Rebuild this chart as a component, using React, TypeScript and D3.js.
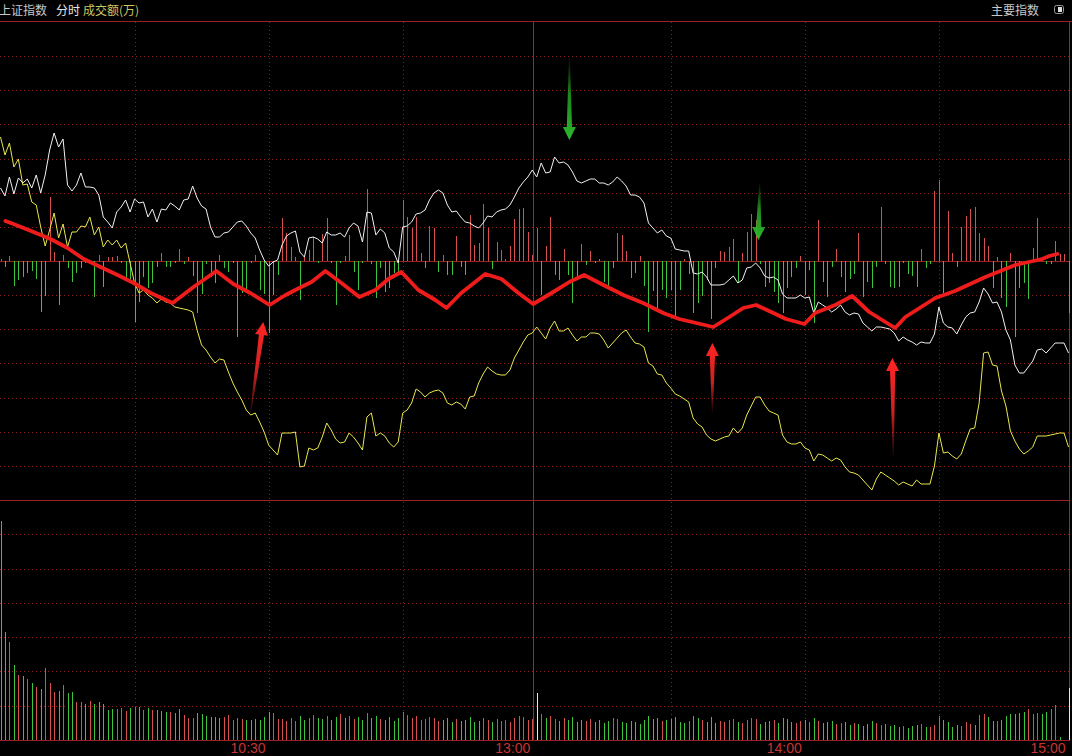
import React from "react";
import * as d3 from "d3";

// ---------- data (minute index 0..239) ----------
const whiteLine = [
  73, 65, 84, 67, 83, 78, 82, 73, 86, 68,
  86, 111, 128, 114, 122, 76, 70, 76, 88, 74,
  74, 73, 66, 44, 39, 33, 49, 54, 61, 49,
  62, 58, 59, 44, 52, 39, 52, 51, 58, 55,
  51, 61, 62, 75, 63, 55, 52, 34, 24, 24,
  28, 29, 34, 39, 40, 35, 28, 23, 11, 1,
  -5, -1, 1, 16, 25, 28, 30, 9, 4, 23,
  24, 22, 18, 29, 26, 26, 28, 24, 33, 38,
  35, 19, 49, 48, 26, 32, 28, 13, 9, -2,
  34, 35, 39, 47, 48, 51, 61, 68, 71, 68,
  56, 49, 50, 44, 39, 38, 35, 33, 38, 45,
  44, 49, 51, 52, 56, 64, 73, 79, 84, 91,
  84, 98, 88, 89, 104, 98, 99, 96, 89, 80,
  78, 80, 82, 82, 78, 78, 76, 79, 84, 80,
  75, 66, 66, 64, 58, 38, 33, 28, 31, 25,
  23, 12, 11, 10, 10, -12, -13, -11, -16, -24,
  -24, -24, -23, -19, -15, -22, -19, -7, -6, -2,
  -7, -15, -17, -16, -19, -33, -37, -37, -37, -34,
  -37, -36, -52, -41, -44, -47, -51, -48, -44, -51,
  -54, -52, -53, -62, -66, -70, -66, -66, -67, -68,
  -72, -80, -76, -79, -81, -84, -81, -82, -82, -73,
  -46, -62, -66, -67, -73, -64, -56, -52, -51, -41,
  -27, -33, -42, -41, -51, -69, -79, -104, -112, -112,
  -106, -100, -89, -88, -92, -87, -82, -82, -82, -92,
];

const yellowLine = [
  124, 106, 118, 94, 102, 76, 77, 59, 56, 34,
  15, 31, 48, 23, 37, 14, 29, 29, 35, 34,
  44, 26, 34, 14, 21, 16, 21, 13, 18, -2,
  -22, -32, -29, -34, -37, -42, -38, -41, -42, -46,
  -47, -48, -49, -51, -69, -84, -89, -96, -102, -98,
  -99, -111, -122, -131, -139, -149, -154, -152, -161, -171,
  -184, -189, -194, -172, -172, -172, -171, -206, -205, -187,
  -189, -187, -176, -162, -169, -178, -182, -181, -172, -176,
  -182, -189, -156, -152, -175, -172, -175, -182, -186, -181,
  -152, -149, -142, -128, -131, -136, -132, -130, -129, -132,
  -142, -144, -141, -143, -148, -136, -135, -122, -113, -106,
  -110, -113, -114, -114, -109, -97, -89, -81, -74, -72,
  -66, -72, -78, -67, -60, -70, -70, -67, -74, -80,
  -76, -76, -72, -72, -73, -79, -87, -82, -77, -72,
  -69, -76, -82, -83, -86, -102, -105, -113, -114, -122,
  -127, -133, -135, -138, -141, -157, -163, -166, -174, -178,
  -180, -178, -176, -175, -167, -172, -167, -154, -145, -136,
  -136, -144, -150, -152, -154, -174, -181, -183, -183, -181,
  -187, -189, -200, -193, -194, -197, -200, -197, -199, -206,
  -211, -212, -214, -219, -224, -229, -218, -211, -214, -217,
  -220, -224, -221, -223, -225, -219, -223, -223, -223, -205,
  -172, -192, -191, -195, -198, -193, -180, -168, -167, -142,
  -92, -91, -104, -105, -130, -145, -170, -180, -188, -193,
  -190, -186, -175, -175, -175, -174, -173, -172, -172, -186,
];

const diffBars = [
  2, -6, 5, -25, -19, -16, -12, -10, -18, -51,
  -35, 64, 9, -44, 6, -7, -21, -12, -7, -2,
  -3, -36, 6, -26, 4, 4, 5, -2, -19, -20,
  -61, -41, -16, -27, -22, -6, 8, -6, -6, -2,
  12, -3, 4, -15, -52, -33, -3, -16, -22, 6,
  -7, -11, -2, -76, -32, -29, -2, 6, -29, -33,
  -72, -34, -14, 43, 28, 14, 4, -39, 4, 11,
  24, -2, 27, 43, -2, -44, -2, 5, 26, -11,
  -29, -2, 72, -3, -37, -7, -31, -27, -12, -12,
  61, 44, 33, 44, 8, -7, 35, 33, -11, 6,
  -14, -14, 25, -6, -14, 46, 16, 18, 57, 33,
  -8, 19, 11, 2, 15, 42, 52, 53, 29, 6,
  33, -34, 15, 44, -14, -19, 12, -14, -42, -16,
  17, -4, 10, -2, 2, -21, -26, -7, 28, 26,
  10, -17, -12, 5, -25, -71, -30, -47, -29, -37,
  -29, -56, -29, 2, -13, -52, -42, -35, -19, -58,
  -7, 10, 9, 14, 22, -22, 8, 29, 47, 41,
  -3, -26, -22, -31, -42, -52, -27, -16, -7, 5,
  -34, -9, -62, 41, -21, -36, -6, 12, -16, -31,
  -18, -13, 28, -36, -21, -27, -6, 54, -3, -26,
  -27, -26, -2, -13, -15, -26, 12, -7, -3, 70,
  81, -32, 50, 8, -6, 34, 45, 52, 54, 28,
  23, 15, -27, 4, -37, -46, 8, -76, -27, -22,
  -38, 13, 43, 4, -3, -3, 20, 7, 7, -52,
];

const redLineMinute = [
  1.1, 2.9, 7.4, 11.2, 15, 18.6, 22.4, 26.2, 29.8, 33.6, 38.5, 43.2, 48.3, 52.1, 55.9, 60.2,
  63.8, 67.3, 69.6, 72.7, 76.3, 80.3, 83.9, 86.8, 89.7, 93.5, 97.3, 99.8, 103.1, 108.5, 112.1, 115.9, 119.2,
  123.7, 127.3, 130.6, 134.9, 139.4, 143.8, 148.3, 151.9, 155.7, 159.5, 163.1, 166.2, 169.1, 172, 175.8, 179.9,
  182.3, 186.8, 190.6, 194.4, 200.2, 202.5, 209.2, 213.6, 220.4, 227.1, 233.1, 234.7, 236.5,
];
const redLineValue = [
  40, 37, 29, 22, 13, 2, -6, -14, -22, -32, -42, -26, -10, -23, -32, -44,
  -34, -26, -21, -10, -22, -36, -29, -18, -11, -29, -39, -47, -32, -13, -18, -32, -43,
  -31, -21, -14, -24, -34, -42, -52, -58, -62, -66, -56, -47, -44, -50, -58, -63,
  -52, -44, -35, -51, -67, -56, -37, -30, -16, -4, 2, 5, 7,
];

const volume = [
  219, 108, 98, 75, 65, 64, 61, 57, 53, 51,
  72, 57, 48, 49, 55, 47, 48, 38, 38, 36,
  39, 36, 38, 36, 30, 31, 31, 32, 29, 32,
  33, 33, 30, 32, 30, 30, 29, 28, 28, 27,
  31, 25, 22, 22, 27, 26, 24, 23, 23, 22,
  23, 25, 20, 22, 21, 20, 20, 21, 20, 23,
  28, 27, 21, 21, 19, 22, 19, 24, 20, 22,
  25, 22, 21, 24, 20, 23, 26, 22, 24, 21,
  23, 20, 27, 22, 24, 21, 20, 23, 19, 22,
  28, 25, 22, 24, 20, 21, 23, 22, 19, 20,
  22, 18, 21, 19, 20, 23, 18, 19, 22, 20,
  18, 21, 19, 20, 18, 22, 24, 23, 20, 21,
  47, 26, 22, 24, 21, 19, 22, 20, 23, 18,
  20, 19, 21, 18, 20, 17, 19, 22, 21, 18,
  17, 19, 18, 16, 20, 24, 21, 22, 19, 20,
  21, 23, 18, 17, 19, 24, 22, 20, 18, 23,
  17, 19, 18, 20, 21, 18, 17, 20, 22, 21,
  16, 18, 19, 20, 17, 22, 21, 18, 17, 19,
  20, 18, 22, 19, 17, 18, 19, 16, 17, 18,
  15, 17, 16, 14, 16, 19, 17, 15, 16, 14,
  15, 13, 14, 12, 14, 15, 16, 13, 13, 15,
  24, 20, 18, 13, 15, 14, 18, 16, 15, 25,
  26, 23, 19, 19, 20, 24, 26, 26, 27, 28,
  31, 26, 27, 26, 28, 31, 35, 3, 0, 52,
];

// r = up, g = down, w = flat
const volumeColor =
  "ggrgrgrgrg" + "rrrgrggrrg" + "rgggggrrrg" + "rgrgrgggrg" + "grrrgggggg" +
  "rrrrrggggg" + "grrrrrrggr" + "rggrggrgrr" + "ggrggrgggg" + "rrrrrrrrrg" +
  "ggrgggggrr" + "grrrrrrrrr" + "wrgrrgrggg" + "grrggggrrg" + "ggggggggrg" +
  "ggggrggrgg" + "grrrrgrrrr" + "gggrggggrr" + "grgrgggrrg" + "grggggrrgg" +
  "ggrgggrgrr" + "rggggrrrgr" + "rggrgggggg" + "rrrggrrggw";

const gridMinutes = [30, 60, 90, 150, 180, 210];
const lunchMinute = 119.25;
const lastMinute = 239;
const timeLabels = ["10:30", "13:00", "14:00", "15:00"];
const timeLabelMinutes = [60, lunchMinute, 180, lastMinute];

const arrowKind = ["green", "green", "red", "red", "red"];
const arrowTailMinute = [127.3, 169.9, 55.9, 159.3, 199.8];
const arrowTailValue = [203, 78, -154, -152, -196];
const arrowTipMinute = [127.3, 169.6, 58.8, 159.3, 199.6];
const arrowTipValue = [121, 21, -61, -82, -97];

// ---------- drawing ----------
const W = 1072;
const H = 756;
const MAIN_TOP = 22;
const MAIN_BOTTOM = 500;
const VOL_BOTTOM = 740;

const GRID = "#8a2020";
const SOLID = "#9a2222";
const SOLID_V = "#b42020";
const RED_BAR = "#d65050";
const GREEN_BAR = "#3cc43c";

function arrowPoints(tx: number, ty: number, px: number, py: number, headLen: number, headHalf: number, tailHalf: number, shaftHalf: number) {
  const dx = px - tx, dy = py - ty;
  const L = Math.hypot(dx, dy);
  const ux = dx / L, uy = dy / L;
  const nx = -uy, ny = ux;
  const bx = px - ux * headLen, by = py - uy * headLen;
  const pts = [
    [tx + nx * tailHalf, ty + ny * tailHalf],
    [bx + nx * shaftHalf, by + ny * shaftHalf],
    [bx + nx * headHalf, by + ny * headHalf],
    [px, py],
    [bx - nx * headHalf, by - ny * headHalf],
    [bx - nx * shaftHalf, by - ny * shaftHalf],
    [tx - nx * tailHalf, ty - ny * tailHalf],
  ];
  return pts.map((p) => p[0].toFixed(1) + "," + p[1].toFixed(1)).join(" ");
}

export default function App() {
  const x = d3.scaleLinear().domain([0, lastMinute]).range([0.5, 1068.5]);
  const yMain = d3.scaleLinear().domain([-239, 239]).range([MAIN_BOTTOM, MAIN_TOP]);
  const yVol = d3.scaleLinear().domain([0, 240]).range([VOL_BOTTOM, MAIN_BOTTOM]);
  const mainStep = 239 / 7;
  const volStep = 240 / 7;
  const snap = (v: number) => Math.round(v) + 0.5;

  const hGrid = [
    ...d3.range(-6, 7).filter((k) => k !== 0).map((k) => snap(yMain(k * mainStep))),
    ...d3.range(1, 7).map((k) => snap(yVol(k * volStep))),
  ];
  const zeroY = snap(yMain(0));
  const rightX = snap(x(lastMinute));
  const lunchX = snap(x(lunchMinute));

  const idx = d3.range(whiteLine.length);
  const lineGen = d3.line<number>().x((i) => x(i)).y((i) => yMain(whiteLine[i]));
  const yellowGen = d3.line<number>().x((i) => x(i)).y((i) => yMain(yellowLine[i]));
  const redGen = d3
    .line<number>()
    .x((i) => x(redLineMinute[i]))
    .y((i) => yMain(redLineValue[i]));

  const volFill = (c: string) => (c === "r" ? RED_BAR : c === "g" ? GREEN_BAR : "#e6e6e6");

  return (
    <svg
      width={W}
      height={H}
      viewBox={`0 0 ${W} ${H}`}
      style={{ position: "absolute", left: 0, top: 0, background: "#000", display: "block" }}
    >
      <rect x={0} y={0} width={W} height={H} fill="#000" />
      <defs>
        {arrowKind.map((k, j) => (
          <linearGradient
            key={j}
            id={`ag${j}`}
            gradientUnits="userSpaceOnUse"
            x1={x(arrowTailMinute[j])}
            y1={yMain(arrowTailValue[j])}
            x2={x(arrowTipMinute[j])}
            y2={yMain(arrowTipValue[j])}
          >
            <stop offset="0" stopColor={k === "red" ? "#ff2a2a" : "#27a827"} stopOpacity={0.05} />
            <stop offset="0.45" stopColor={k === "red" ? "#ff2a2a" : "#27a827"} stopOpacity={0.8} />
            <stop offset="1" stopColor={k === "red" ? "#ff2424" : "#2cb82c"} stopOpacity={1} />
          </linearGradient>
        ))}
      </defs>

      {/* dotted grid */}
      <g shapeRendering="crispEdges">
        {hGrid.map((y, j) => (
          <line key={"h" + j} x1={0} x2={rightX} y1={y} y2={y} stroke={GRID} strokeWidth={1} strokeDasharray="1,3" />
        ))}
        {gridMinutes.map((m, j) => (
          <line
            key={"v" + j}
            x1={snap(x(m))}
            x2={snap(x(m))}
            y1={MAIN_TOP}
            y2={VOL_BOTTOM}
            stroke={GRID}
            strokeWidth={1}
            strokeDasharray="1,3"
          />
        ))}
      </g>

      {/* solid frame lines */}
      <g shapeRendering="crispEdges">
        <line x1={0} x2={W} y1={21.5} y2={21.5} stroke={SOLID} strokeWidth={1} />
        <line x1={0} x2={rightX} y1={zeroY} y2={zeroY} stroke={SOLID} strokeWidth={1} />
        <line x1={0} x2={rightX} y1={MAIN_BOTTOM + 0.5} y2={MAIN_BOTTOM + 0.5} stroke={SOLID} strokeWidth={1} />
        <line x1={0} x2={rightX} y1={VOL_BOTTOM + 0.5} y2={VOL_BOTTOM + 0.5} stroke={SOLID} strokeWidth={1} />
        <line x1={lunchX} x2={lunchX} y1={MAIN_TOP} y2={VOL_BOTTOM} stroke={SOLID_V} strokeWidth={1} />
        <line x1={rightX} x2={rightX} y1={MAIN_TOP} y2={VOL_BOTTOM} stroke={SOLID_V} strokeWidth={1} />
      </g>

      {/* histogram in main panel */}
      <g shapeRendering="crispEdges">
        {diffBars.map((v, i) => {
          const y0 = yMain(0);
          const y1 = yMain(v);
          return (
            <rect
              key={"d" + i}
              x={Math.round(x(i))}
              y={Math.min(y0, y1)}
              width={1}
              height={Math.abs(y1 - y0)}
              fill={v >= 0 ? RED_BAR : GREEN_BAR}
            />
          );
        })}
      </g>

      {/* volume bars */}
      <g shapeRendering="crispEdges">
        {volume.map((v, i) => (
          <rect
            key={"v" + i}
            x={Math.round(x(i))}
            y={yVol(v)}
            width={1}
            height={VOL_BOTTOM - yVol(v)}
            fill={volFill(volumeColor[i])}
          />
        ))}
      </g>

      {/* lines */}
      <path d={yellowGen(idx) || ""} fill="none" stroke="#e8e84e" strokeWidth={1} />
      <path d={lineGen(idx) || ""} fill="none" stroke="#f2f2f2" strokeWidth={1} />
      <path
        d={redGen(d3.range(redLineMinute.length)) || ""}
        fill="none"
        stroke="#f01c1c"
        strokeWidth={3.8}
        strokeLinejoin="round"
        strokeLinecap="round"
      />

      {/* arrows */}
      {arrowKind.map((k, j) => (
        <polygon
          key={"a" + j}
          points={arrowPoints(
            x(arrowTailMinute[j]),
            yMain(arrowTailValue[j]),
            x(arrowTipMinute[j]),
            yMain(arrowTipValue[j]),
            13,
            6.5,
            0.5,
            2.6
          )}
          fill={`url(#ag${j})`}
        />
      ))}

      {/* header */}
      <g fontFamily="'Noto Sans CJK SC', 'Noto Sans', sans-serif" fontSize={12}>
        <text x={-1} y={15} fill="#c8c8c8">上证指数</text>
        <text x={56} y={15} fill="#e6e6e6">分时</text>
        <text x={83} y={15} fill="#c8c864">成交额(万)</text>
        <text x={991} y={15} fill="#c8c8c8">主要指数</text>
      </g>
      <rect x={1054.5} y={5.5} width={9} height={8} rx={2} fill="none" stroke="#9a9a9a" strokeWidth={1} />
      <rect x={1058} y={7} width={4} height={5} fill="#e0e0e0" />

      {/* time axis labels */}
      <g fontFamily="'Liberation Sans Narrow', 'Liberation Sans', Arial, sans-serif" fontSize={14} fill="#c83434" textAnchor="end">
        {timeLabels.map((t, j) => (
          <text key={t} x={x(timeLabelMinutes[j]) - 3} y={753}>
            {t}
          </text>
        ))}
      </g>
    </svg>
  );
}
